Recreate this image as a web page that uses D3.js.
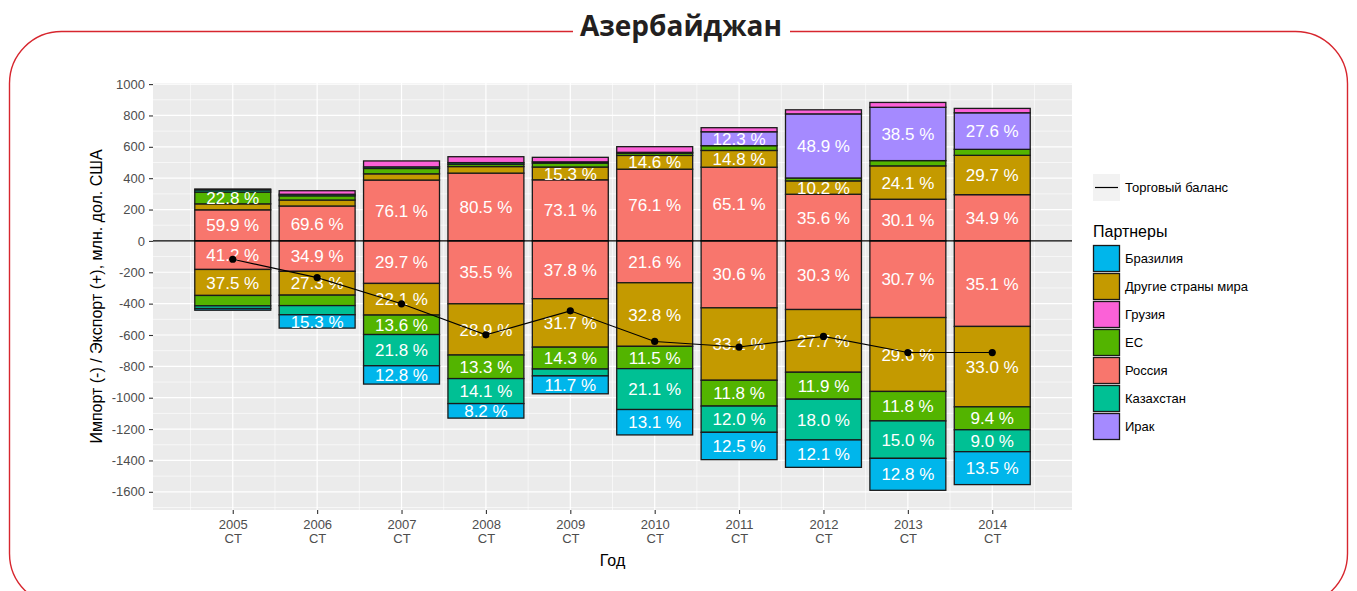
<!DOCTYPE html>
<html>
<head>
<meta charset="utf-8">
<script src="https://cdn.jsdelivr.net/npm/d3@7"></script>
<style>
  body { margin: 0; background: #fff; }
  svg { display: block; font-family: "Liberation Sans", Arial, sans-serif; }
</style>
</head>
<body>
<div id="chart"></div>
<script>
// years on the x axis
const years = [2005, 2006, 2007, 2008, 2009, 2010, 2011, 2012, 2013, 2014];
const yTicks = [-1600, -1400, -1200, -1000, -800, -600, -400, -200, 0, 200, 400, 600, 800, 1000];

// legend order (ggplot factor levels)
const partners = ["Бразилия", "Другие страны мира", "Грузия", "ЕС", "Россия", "Казахстан", "Ирак"];
const colors = ["#00B6EB", "#C49A00", "#FB61D7", "#53B400", "#F8766D", "#00C094", "#A58AFF"];

// totals, mln USD
const exportTotal = [331, 320, 510, 537, 533, 601, 722, 836, 883, 845];
const importTotal = [442, 556, 913, 1130, 975, 1236, 1395, 1444, 1592, 1554];
const balance = [-117, -234, -401, -599, -446, -641, -677, -609, -712, -712];

// export shares, %
const exRussia = [59.9, 69.6, 76.1, 80.5, 73.1, 76.1, 65.1, 35.6, 30.1, 34.9];
const exOther = [11.5, 11.9, 7.8, 7.8, 15.3, 14.6, 14.8, 10.2, 24.1, 29.7];
const exEU = [22.8, 8.4, 6.7, 2.8, 4.7, 2.3, 4.2, 2.2, 3.8, 4.5];
const exKazakhstan = [4.0, 3.1, 2.0, 1.9, 1.5, 1.0, 0, 0, 0, 0];
const exIraq = [0, 0, 0, 0, 0, 0, 12.3, 48.9, 38.5, 27.6];
const exGeorgia = [1.8, 7.0, 7.4, 7.0, 5.4, 6.0, 3.6, 3.1, 3.5, 3.3];

// import shares, %
const imRussia = [41.2, 34.9, 29.7, 35.5, 37.8, 21.6, 30.6, 30.3, 30.7, 35.1];
const imOther = [37.5, 27.3, 22.1, 28.9, 31.7, 32.8, 33.1, 27.7, 29.6, 33.0];
const imEU = [15.0, 12.0, 13.6, 13.3, 14.3, 11.5, 11.8, 11.9, 11.8, 9.4];
const imKazakhstan = [3.9, 10.5, 21.8, 14.1, 4.5, 21.1, 12.0, 18.0, 15.0, 9.0];
const imBrazil = [2.4, 15.3, 12.8, 8.2, 11.7, 13.1, 12.5, 12.1, 12.8, 13.5];

// stacking order from zero outwards
const exportStack = [["Россия", exRussia], ["Другие страны мира", exOther], ["ЕС", exEU],
  ["Казахстан", exKazakhstan], ["Ирак", exIraq], ["Грузия", exGeorgia]];
const importStack = [["Россия", imRussia], ["Другие страны мира", imOther], ["ЕС", imEU],
  ["Казахстан", imKazakhstan], ["Бразилия", imBrazil]];

const width = 1357, height = 591;
const pLeft = 153, pRight = 1072, pTop = 83, pBottom = 510;

const color = d3.scaleOrdinal().domain(partners).range(colors);
const x = d3.scaleLinear().domain([2004.055, 2014.945]).range([pLeft, pRight]);
const y = d3.scaleLinear().domain([-1716, 1007]).range([pBottom, pTop]);

// build segments
let segments = [];
years.forEach((yr, i) => {
  let acc = 0;
  exportStack.forEach(([name, arr]) => {
    const v = exportTotal[i] * arr[i] / 100;
    if (v > 0) segments.push({ year: yr, name, share: arr[i], v, y0: acc, y1: acc + v });
    acc += v;
  });
  acc = 0;
  importStack.forEach(([name, arr]) => {
    const v = importTotal[i] * arr[i] / 100;
    if (v > 0) segments.push({ year: yr, name, share: arr[i], v, y0: acc - v, y1: acc });
    acc -= v;
  });
});

const svg = d3.select("#chart").append("svg")
  .attr("width", width)
  .attr("height", height);

// frame
svg.append("rect")
  .attr("x", 9.5).attr("y", 31.5)
  .attr("width", 1338).attr("height", 574)
  .attr("rx", 52).attr("ry", 52)
  .attr("fill", "none")
  .attr("stroke", "#d7262e")
  .attr("stroke-width", 1.4);

svg.append("rect")
  .attr("x", 573).attr("y", 20)
  .attr("width", 217).attr("height", 24)
  .attr("fill", "#fff");

svg.append("text")
  .attr("x", 681).attr("y", 36)
  .attr("text-anchor", "middle")
  .attr("font-family", "'Open Sans', sans-serif")
  .attr("font-weight", "bold")
  .attr("font-size", 28)
  .attr("fill", "#231f20")
  .text("Азербайджан");

// panel
svg.append("rect")
  .attr("x", pLeft).attr("y", pTop)
  .attr("width", pRight - pLeft).attr("height", pBottom - pTop)
  .attr("fill", "#EBEBEB");

const grid = svg.append("g");
grid.selectAll(".hmin")
  .data(d3.range(-1700, 1001, 200))
  .enter().append("line")
  .attr("x1", pLeft).attr("x2", pRight)
  .attr("y1", d => y(d)).attr("y2", d => y(d))
  .attr("stroke", "#fff").attr("stroke-width", 0.6);
grid.selectAll(".vmin")
  .data(years.map(d => d - 0.5).concat([2014.5]))
  .enter().append("line")
  .attr("y1", pTop).attr("y2", pBottom)
  .attr("x1", d => x(d)).attr("x2", d => x(d))
  .attr("stroke", "#fff").attr("stroke-width", 0.6);
grid.selectAll(".hmaj")
  .data(yTicks)
  .enter().append("line")
  .attr("x1", pLeft).attr("x2", pRight)
  .attr("y1", d => y(d)).attr("y2", d => y(d))
  .attr("stroke", "#fff").attr("stroke-width", 1.2);
grid.selectAll(".vmaj")
  .data(years)
  .enter().append("line")
  .attr("y1", pTop).attr("y2", pBottom)
  .attr("x1", d => x(d)).attr("x2", d => x(d))
  .attr("stroke", "#fff").attr("stroke-width", 1.2);

// bars
svg.append("g").selectAll("rect")
  .data(segments)
  .enter().append("rect")
  .attr("x", d => x(d.year - 0.45))
  .attr("width", d => x(d.year + 0.45) - x(d.year - 0.45))
  .attr("y", d => y(d.y1))
  .attr("height", d => y(d.y0) - y(d.y1))
  .attr("fill", d => color(d.name))
  .attr("stroke", "#1a1a1a")
  .attr("stroke-width", 1.3);

// zero line
svg.append("line")
  .attr("x1", pLeft).attr("x2", pRight)
  .attr("y1", y(0)).attr("y2", y(0))
  .attr("stroke", "#000").attr("stroke-width", 1.1);

// share labels
svg.append("g").selectAll("text")
  .data(segments.filter(d => d.v >= 70))
  .enter().append("text")
  .attr("x", d => x(d.year))
  .attr("y", d => y((d.y0 + d.y1) / 2))
  .attr("dy", "0.36em")
  .attr("text-anchor", "middle")
  .attr("font-size", 17)
  .attr("fill", "#fff")
  .text(d => d.share.toFixed(1) + " %");

// trade balance
const line = d3.line().x((d, i) => x(years[i])).y(d => y(d));
svg.append("path")
  .attr("d", line(balance))
  .attr("fill", "none")
  .attr("stroke", "#000")
  .attr("stroke-width", 1.1);
svg.append("g").selectAll("circle")
  .data(balance)
  .enter().append("circle")
  .attr("cx", (d, i) => x(years[i]))
  .attr("cy", d => y(d))
  .attr("r", 3.6)
  .attr("fill", "#000");

// axes
const yAxis = svg.append("g")
  .attr("transform", `translate(${pLeft},0)`)
  .call(d3.axisLeft(y).tickValues(yTicks).tickSize(4).tickPadding(4).tickFormat(d => String(d)));
const xAxis = svg.append("g")
  .attr("transform", `translate(0,${pBottom})`)
  .call(d3.axisBottom(x).tickValues(years).tickSize(4).tickPadding(4).tickFormat(""));
[yAxis, xAxis].forEach(a => {
  a.select(".domain").remove();
  a.selectAll(".tick line").attr("stroke", "#333").attr("stroke-width", 1.1);
  a.selectAll(".tick text").attr("fill", "#4D4D4D").attr("font-size", 13)
    .attr("font-family", "'Liberation Sans', Arial, sans-serif");
});
xAxis.selectAll(".tick text").each(function(d) {
  const t = d3.select(this).attr("dy", null).attr("y", 19);
  t.append("tspan").attr("x", 0).text(d);
  t.append("tspan").attr("x", 0).attr("dy", 14).text("CT");
});

svg.append("text")
  .attr("transform", `translate(102,${(pTop + pBottom) / 2}) rotate(-90)`)
  .attr("text-anchor", "middle")
  .attr("font-size", 16)
  .attr("fill", "#000")
  .text("Импорт (-) / Экспорт (+), млн. дол. США");

svg.append("text")
  .attr("x", (pLeft + pRight) / 2).attr("y", 566)
  .attr("text-anchor", "middle")
  .attr("font-size", 16)
  .attr("fill", "#000")
  .text("Год");

// legend
const lg = svg.append("g").attr("transform", "translate(1093,0)");
lg.append("rect")
  .attr("x", 0).attr("y", 174).attr("width", 27).attr("height", 27)
  .attr("fill", "#F2F2F2");
lg.append("line")
  .attr("x1", 2).attr("x2", 25).attr("y1", 187.5).attr("y2", 187.5)
  .attr("stroke", "#000").attr("stroke-width", 1.2);
lg.append("text")
  .attr("x", 32).attr("y", 187.5).attr("dy", "0.35em")
  .attr("font-size", 13)
  .text("Торговый баланс");

lg.append("text")
  .attr("x", 0).attr("y", 237)
  .attr("font-size", 16)
  .text("Партнеры");

const keys = lg.selectAll(".key")
  .data(partners)
  .enter().append("g")
  .attr("transform", (d, i) => `translate(0,${245 + i * 28})`);
keys.append("rect")
  .attr("x", 0.5).attr("y", 0.5).attr("width", 26).attr("height", 26)
  .attr("fill", d => color(d))
  .attr("stroke", "#1a1a1a").attr("stroke-width", 1.3);
keys.append("text")
  .attr("x", 32).attr("y", 13.5).attr("dy", "0.35em")
  .attr("font-size", 13)
  .text(d => d);
</script>
</body>
</html>
